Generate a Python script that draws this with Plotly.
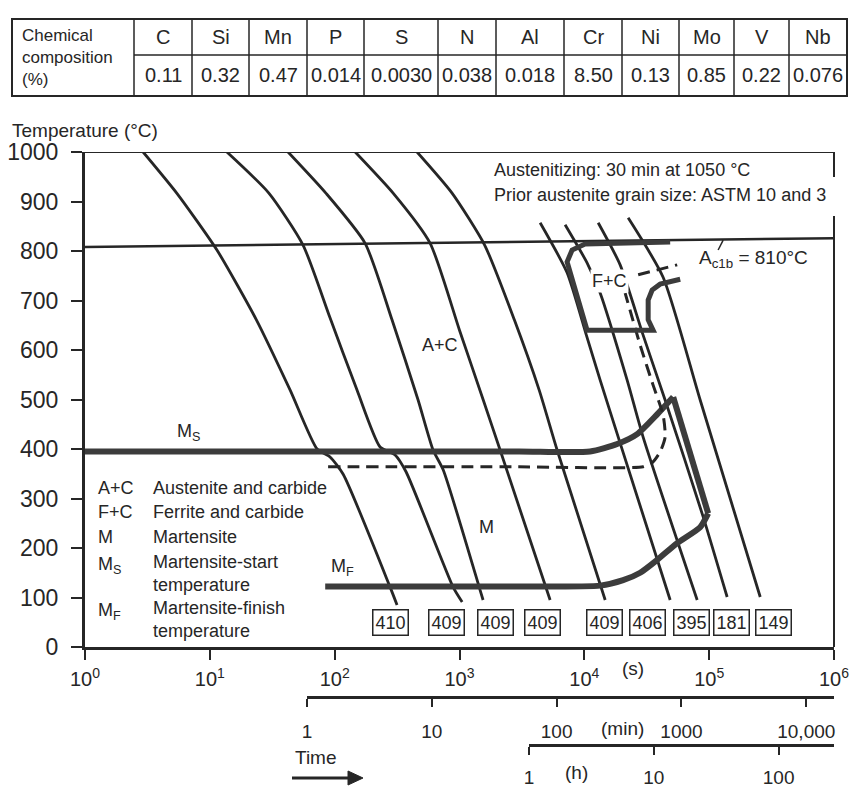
import numpy as np
import plotly.graph_objects as go

# ---------------- data ----------------
ELEMENTS = ["C", "Si", "Mn", "P", "S", "N", "Al", "Cr", "Ni", "Mo", "V", "Nb"]
COMPOSITION = ["0.11", "0.32", "0.47", "0.014", "0.0030", "0.038", "0.018",
               "8.50", "0.13", "0.85", "0.22", "0.076"]

TEMP_TICKS = [0, 100, 200, 300, 400, 500, 600, 700, 800, 900, 1000]
TIME_S_TICKS = [1, 10, 100, 1000, 10000, 100000, 1000000]
TIME_S_LABELS = ["10<sup>0</sup>", "10<sup>1</sup>", "10<sup>2</sup>", "10<sup>3</sup>",
                 "10<sup>4</sup>", "10<sup>5</sup>", "10<sup>6</sup>"]
TIME_MIN_TICKS = [1, 10, 100, 1000, 10000]
TIME_MIN_LABELS = ["1", "10", "100", "1000", "10,000"]
TIME_H_TICKS = [1, 10, 100]
TIME_H_LABELS = ["1", "10", "100"]

# cooling curves (time in s, temperature in degC)
C1_t = [2.92, 5.43, 11.4, 23.6, 44.0, 72.3, 91.8, 117, 278, 316]
C1_T = [1000, 917, 802, 661, 519, 400, 384, 349, 121, 85]
C2_t = [13.7, 29.7, 55.8, 91.8, 151, 231, 305, 373, 889, 1050]
C2_T = [1000, 917, 812, 665, 519, 404, 388, 354, 121, 91]
C3_t = [42.3, 85, 175, 288, 466, 614, 740, 1462, 1545]
C3_T = [1000, 917, 816, 661, 499, 398, 358, 115, 95]
C4_t = [146, 294, 581, 1000, 1550, 2115, 5320]
C4_T = [1000, 917, 816, 640, 499, 398, 95]
C5_t = [457, 872, 1590, 2750, 4350, 6053, 14690]
C5_T = [1000, 917, 812, 661, 519, 398, 95]
C6_t = [4426, 7278, 10380, 13390, 19360, 48700]
C6_T = [857, 756, 630, 539, 412, 95]
C7_t = [7015, 10520, 13390, 22030, 29580, 80170]
C7_T = [853, 776, 715, 539, 424, 95]
C8_t = [12910, 19360, 29580, 44380, 89540, 139300]
C8_T = [857, 772, 630, 499, 263, 101]
C9_t = [22440, 42760, 84720, 256500]
C9_T = [867, 747, 499, 101]

HARDNESS = [410, 409, 409, 409, 409, 406, 395, 181, 149]
HARDNESS_TIME_S = [278, 782, 1928, 4592, 14420, 31840, 71780, 150000, 325800]

# Ac1b line
AC1B_t = [1, 1000000]
AC1B_T = [808, 826]

# Ms / Mf transformation boundary
MS_t = [1, 100, 3000, 11120, 18320, 26490, 38300, 51520]
MS_T = [395, 395, 395, 395, 410, 430, 470, 505]
MS_EDGE_t = [51520, 98160]
MS_EDGE_T = [505, 270]
MF_t = [98160, 84720, 55460, 38300, 28000, 20460, 13390, 3000, 84]
MF_T = [270, 242, 210, 176, 150, 135, 124, 122, 122]

# dashed boundary
DASH_t = [88.6, 3000, 29580, 34920, 40460, 44380, 42760, 35560, 28000, 21230]
DASH_T = [364, 364, 364, 372, 394, 424, 469, 529, 610, 715]
DASH2_t = [27000, 55460]
DASH2_T = [752, 772]

# ferrite + carbide start
FC_t = [48700, 10140, 7980, 7278, 10520, 35560, 32460, 32460, 34920, 40460, 58610]
FC_T = [818, 814, 802, 778, 640, 640, 661, 701, 721, 733, 743]

# leader of the Ac1b label
LEAD_t = [129500, 118000]
LEAD_T = [822, 802]

# ---------------- styling / layout helpers ----------------
FONT = "Liberation Sans, Arial, Helvetica, sans-serif"
INK = "#262626"
W, H = 859, 789
ML, MR, MT, MB = 85, 25, 152, 20
PW, PH = W - ML - MR, H - MT - MB


def px(x):
    return (x - ML) / PW


def py(y):
    return (H - MB - y) / PH


fig = go.Figure()


def curve(t, T, width=3, color=INK, dash="solid", shape="spline", smooth=0.9):
    fig.add_trace(go.Scatter(
        x=t, y=T, mode="lines",
        line=dict(color=color, width=width, dash=dash, shape=shape,
                  smoothing=smooth if shape == "spline" else None),
        hoverinfo="skip", showlegend=False))


for t, T in [(C1_t, C1_T), (C2_t, C2_T), (C3_t, C3_T), (C4_t, C4_T), (C5_t, C5_T),
             (C6_t, C6_T), (C7_t, C7_T), (C8_t, C8_T), (C9_t, C9_T)]:
    curve(t, T, width=2.8, smooth=0.6)

curve(AC1B_t, AC1B_T, width=2.5, shape="linear")
curve(MS_t, MS_T, width=6, color="#3c3c3c", smooth=0.6)
curve(MS_EDGE_t, MS_EDGE_T, width=6, color="#3c3c3c", shape="linear")
curve(MF_t, MF_T, width=6, color="#3c3c3c", smooth=0.6)
curve(DASH_t, DASH_T, width=3, dash="12px,7px", smooth=0.6)
curve(DASH2_t, DASH2_T, width=3, dash="12px,7px", shape="linear")
curve(FC_t, FC_T, width=5, color="#3c3c3c", shape="linear")
curve(LEAD_t, LEAD_T, width=1.5, shape="linear")

# dummy traces so the secondary time axes are drawn
fig.add_trace(go.Scatter(x=[1], y=[None], xaxis="x2", yaxis="y", mode="markers",
                         marker=dict(opacity=0), showlegend=False, hoverinfo="skip"))
fig.add_trace(go.Scatter(x=[1], y=[None], xaxis="x3", yaxis="y", mode="markers",
                         marker=dict(opacity=0), showlegend=False, hoverinfo="skip"))

ydom0 = py(647)
axis_common = dict(showgrid=False, zeroline=False, showline=True, linecolor=INK,
                   automargin=False, ticks="outside", tickcolor=INK)

fig.update_layout(
    width=W, height=H, margin=dict(l=ML, r=MR, t=MT, b=MB, autoexpand=False),
    plot_bgcolor="rgba(0,0,0,0)", paper_bgcolor="white", showlegend=False,
    font=dict(family=FONT, color=INK),
    xaxis=dict(type="log", range=[0, 6], domain=[0, 1], anchor="y", linewidth=3,
               ticklen=10, tickwidth=2, tickvals=TIME_S_TICKS, ticktext=TIME_S_LABELS,
               ticklabelstandoff=2, tickfont=dict(family=FONT, size=20, color=INK),
               **axis_common),
    yaxis=dict(range=[0, 1000], domain=[ydom0, 1], anchor="x", linewidth=3,
               ticklen=11, tickwidth=2, tickvals=TEMP_TICKS, ticklabelstandoff=8,
               tickfont=dict(family=FONT, size=23, color=INK), **axis_common),
    xaxis2=dict(type="log", domain=[np.log10(60) / 6, 1], range=[0, 6 - np.log10(60)],
                anchor="free", position=py(697), linewidth=3, ticklen=8, tickwidth=2,
                tickvals=TIME_MIN_TICKS, ticktext=TIME_MIN_LABELS, ticklabelstandoff=8,
                tickfont=dict(family=FONT, size=19, color=INK), **axis_common),
    xaxis3=dict(type="log", domain=[np.log10(3600) / 6, 1], range=[0, 6 - np.log10(3600)],
                anchor="free", position=py(745), linewidth=3, ticklen=8, tickwidth=2,
                tickvals=TIME_H_TICKS, ticktext=TIME_H_LABELS, ticklabelstandoff=6,
                tickfont=dict(family=FONT, size=19, color=INK), **axis_common),
)

shapes = []
# top frame line and right frame line (with gap for the text)
shapes.append(dict(type="line", xref="paper", yref="y", x0=0, x1=1, y0=1000, y1=1000,
                   line=dict(color=INK, width=2)))
shapes.append(dict(type="line", xref="paper", yref="paper", x0=1, x1=1, y0=py(152), y1=py(177),
                   line=dict(color=INK, width=2)))
shapes.append(dict(type="line", xref="paper", yref="paper", x0=1, x1=1, y0=py(216), y1=py(647),
                   line=dict(color=INK, width=2)))

# composition table
TBL_L, TBL_R, TBL_T, TBL_M, TBL_B = 12, 847, 19, 55, 96
COL_X = [134, 192, 249, 307, 364, 438, 496, 564, 622, 679, 734, 789, 847]
shapes.append(dict(type="rect", xref="paper", yref="paper", x0=px(TBL_L), x1=px(TBL_R),
                   y0=py(TBL_B), y1=py(TBL_T), line=dict(color=INK, width=2)))
shapes.append(dict(type="line", xref="paper", yref="paper", x0=px(COL_X[0]), x1=px(TBL_R),
                   y0=py(TBL_M), y1=py(TBL_M), line=dict(color=INK, width=1.5)))
for cx in COL_X[:-1]:
    shapes.append(dict(type="line", xref="paper", yref="paper", x0=px(cx), x1=px(cx),
                       y0=py(TBL_B), y1=py(TBL_T), line=dict(color=INK, width=1.5)))

# "Time" arrow
shapes.append(dict(type="line", xref="paper", yref="paper", x0=px(292), x1=px(350),
                   y0=py(778), y1=py(778), line=dict(color=INK, width=3)))
shapes.append(dict(type="path", xref="paper", yref="paper",
                   path=f"M {px(348)} {py(771)} L {px(363)} {py(778)} L {px(348)} {py(785)} Z",
                   fillcolor=INK, line=dict(color=INK, width=1)))
fig.update_layout(shapes=shapes)

ann = []


def text(x, y, s, size=18, xanchor="center", yanchor="middle", xref="paper", yref="paper", **kw):
    ann.append(dict(x=x, y=y, xref=xref, yref=yref, text=s, showarrow=False,
                    xanchor=xanchor, yanchor=yanchor,
                    font=dict(family=FONT, size=size, color=INK), **kw))


# table texts
text(px(20), py(57), "Chemical<br>composition<br>(%)", size=17, xanchor="left", align="left")
for i, (el, val) in enumerate(zip(ELEMENTS, COMPOSITION)):
    cxm = (COL_X[i] + COL_X[i + 1]) / 2
    text(px(cxm), py(37), el, size=20)
    text(px(cxm), py(75), val, size=20)

# axis title and units
text(px(10), py(130), "Temperature (°C)", size=19, xanchor="left")
text(px(633), py(668), "(s)", size=19)
text(px(622), py(728), "(min)", size=19)
text(px(576), py(772), "(h)", size=19)
text(px(316), py(757), "Time", size=19)

# header note
text(np.log10(1824), 964, "Austenitizing: 30 min at 1050 °C", size=18, xanchor="left",
     xref="x", yref="y")
text(np.log10(1824), 913, "Prior austenite grain size: ASTM 10 and 3", size=18,
     xanchor="left", xref="x", yref="y")

# region labels
text(np.log10(700), 610, "A+C", size=18, xref="x", yref="y")
text(np.log10(15800), 739, "F+C", size=18, xref="x", yref="y", bgcolor="white")
text(np.log10(1633), 242, "M", size=18, xref="x", yref="y")
text(np.log10(6.7), 434, "M<sub>S</sub>", size=18, xref="x", yref="y")
text(np.log10(115), 160, "M<sub>F</sub>", size=18, xref="x", yref="y")
text(np.log10(80200), 784, "A<sub>c1b</sub> = 810°C", size=19, xanchor="left",
     xref="x", yref="y")

# legend block
LEG_KEYS = ["A+C", "F+C", "M", "M<sub>S</sub>", "", "M<sub>F</sub>", ""]
LEG_TEXT = ["Austenite and carbide", "Ferrite and carbide", "Martensite",
            "Martensite-start", "temperature", "Martensite-finish", "temperature"]
LEG_Y = [488, 512, 537, 562, 585, 608, 631]
for k, s, yy in zip(LEG_KEYS, LEG_TEXT, LEG_Y):
    if k:
        text(px(96), py(yy + (3 if "sub" in k else 0)), k, size=18, xanchor="left")
    text(px(151), py(yy), s, size=18, xanchor="left")

# hardness boxes
for hv, ts in zip(HARDNESS, HARDNESS_TIME_S):
    text(np.log10(ts), 48.5, str(hv), size=18, xref="x", yref="y",
         bordercolor=INK, borderwidth=1.5, borderpad=2, bgcolor="white")

fig.update_layout(annotations=ann)
fig.write_html("out.html")
